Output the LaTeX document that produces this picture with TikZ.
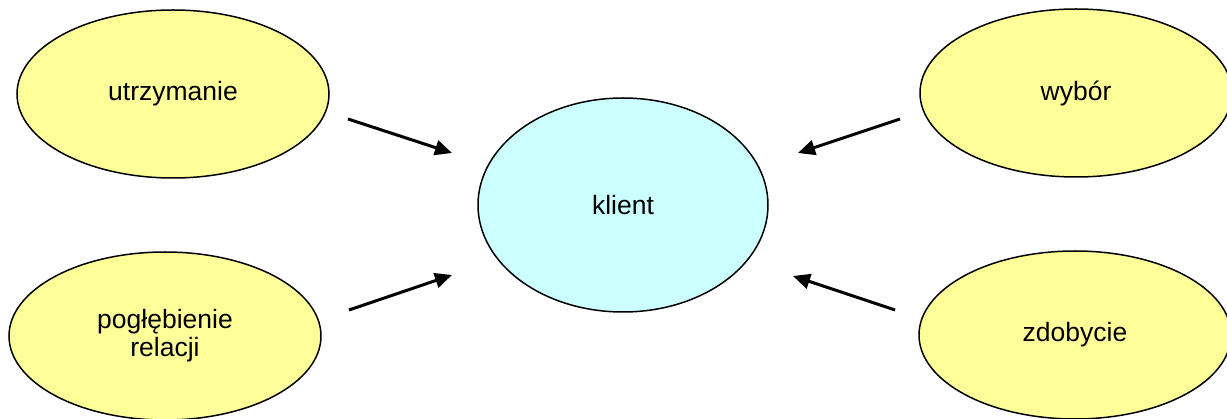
\documentclass[tikz,border=0pt]{standalone}
\usepackage{fontspec}
\setmainfont{Liberation Sans}
\usetikzlibrary{shapes.geometric,arrows.meta}
\definecolor{paleyellow}{HTML}{FFFF99}
\definecolor{palecyan}{HTML}{CCFFFF}
\begin{document}
\begin{tikzpicture}[x=1pt,y=-1pt,
  bubble/.style={ellipse,draw=black,line width=1.5pt,inner sep=0pt,
    align=center,font=\fontsize{26.5}{28}\selectfont},
  outer/.style={bubble,fill=paleyellow,minimum width=312pt,minimum height=168pt},
  hub/.style={bubble,fill=palecyan,minimum width=290pt,minimum height=214pt},
  pointer/.style={line width=3pt,-{Triangle[length=17pt,width=15pt]}}]
\useasboundingbox (0,0) rectangle (1227,419);

% central node and the four surrounding ones
\node[hub]   (klient) at (623,205) {klient};
\node[outer] (utrz)   at (173,94)  {utrzymanie};
\node[outer] (wybor)  at (1076,93) {wybór};
\node[outer] (poglab) at (165,336) {pogłębienie\\relacji};
\node[outer] (zdob)   at (1075,335){zdobycie};

% free-standing arrow ends
\coordinate (a1s) at (348,119); \coordinate (a1e) at (452,153);
\coordinate (a2s) at (900,119); \coordinate (a2e) at (798,153);
\coordinate (a3s) at (349,310); \coordinate (a3e) at (452,275);
\coordinate (a4s) at (895,310); \coordinate (a4e) at (793,276);

\draw[pointer] (a1s) -- (a1e);
\draw[pointer] (a2s) -- (a2e);
\draw[pointer] (a3s) -- (a3e);
\draw[pointer] (a4s) -- (a4e);
\end{tikzpicture}
\end{document}
